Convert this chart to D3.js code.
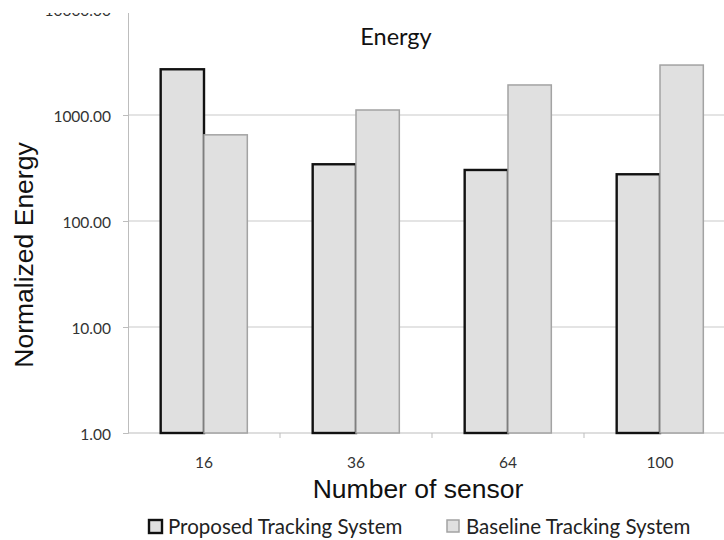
<!DOCTYPE html>
<html>
<head>
<meta charset="utf-8">
<script src="https://cdn.jsdelivr.net/npm/d3@7"></script>
<style>
  html, body { margin: 0; padding: 0; background: #fff; }
  svg { display: block; }
</style>
</head>
<body>
<svg id="chart" width="724" height="540"></svg>
<script>
// Number of sensors per run
const categories = ["16", "36", "64", "100"];
// Normalized energy for each tracking system
const proposedValues = [2700, 343, 303, 276];
const baselineValues = [650, 1115, 1920, 2960];
const seriesNames = ["Proposed Tracking System", "Baseline Tracking System"];
const yTickValues = [1, 10, 100, 1000, 10000];

const svg = d3.select("#chart");
const W = 724, H = 540;
const plot = { left: 128, right: 736, top: 9, bottom: 433, visibleTop: 13 };

const tickFont = "Lato, 'Open Sans', sans-serif";
const titleFont = "'Liberation Sans', Arial, sans-serif";

svg.append("defs").append("clipPath").attr("id", "visible")
  .append("rect").attr("x", 0).attr("y", plot.visibleTop).attr("width", W).attr("height", H - plot.visibleTop);

const root = svg.append("g").attr("clip-path", "url(#visible)");

const y = d3.scaleLog().domain([1, 10000]).range([plot.bottom, plot.top]);

const x0 = d3.scaleBand().domain(categories)
  .range([plot.left, plot.right])
  .paddingInner(0.43).paddingOuter(0.215);
const x1 = d3.scaleBand().domain(seriesNames).range([0, x0.bandwidth()]);

const rows = categories.map((c, i) => ({
  cat: c,
  values: [
    { name: seriesNames[0], v: proposedValues[i] },
    { name: seriesNames[1], v: baselineValues[i] }
  ]
}));

// horizontal gridlines
root.append("g").selectAll("line")
  .data(yTickValues.filter(v => v > 1))
  .join("line")
  .attr("x1", plot.left).attr("x2", W)
  .attr("y1", d => y(d)).attr("y2", d => y(d))
  .attr("stroke", "#c9c9c9").attr("stroke-width", 1);

// y axis
const yAxis = d3.axisLeft(y).tickValues(yTickValues)
  .tickFormat(d3.format(".2f")).tickSize(5).tickPadding(12);
const gy = root.append("g").attr("transform", `translate(${plot.left},0)`).call(yAxis);
gy.select(".domain").attr("stroke", "#bdbdbd");
gy.selectAll(".tick line").attr("stroke", "#bdbdbd");
gy.selectAll(".tick text").attr("fill", "#333").attr("font-family", tickFont)
  .attr("font-size", 15.5).attr("dy", "0.45em");

// x axis baseline with tick marks between categories
root.append("line")
  .attr("x1", plot.left).attr("x2", W)
  .attr("y1", plot.bottom).attr("y2", plot.bottom)
  .attr("stroke", "#bdbdbd");
const gap = (x0.step() - x0.bandwidth()) / 2;
root.append("g").selectAll("line")
  .data(categories.slice(1))
  .join("line")
  .attr("x1", d => x0(d) - gap).attr("x2", d => x0(d) - gap)
  .attr("y1", plot.bottom).attr("y2", plot.bottom + 5)
  .attr("stroke", "#bdbdbd");

root.append("g").selectAll("text")
  .data(categories)
  .join("text")
  .attr("x", d => x0(d) + x0.bandwidth() / 2)
  .attr("y", plot.bottom + 35)
  .attr("text-anchor", "middle")
  .attr("font-family", tickFont).attr("font-size", 15.5).attr("fill", "#333")
  .text(d => d);

// bars
const styles = {
  [seriesNames[0]]: { stroke: "#111", width: 2.4 },
  [seriesNames[1]]: { stroke: "#a3a3a3", width: 1.5 }
};
root.append("g").selectAll("g")
  .data(rows)
  .join("g")
  .attr("transform", d => `translate(${x0(d.cat)},0)`)
  .selectAll("rect")
  .data(d => d.values)
  .join("rect")
  .attr("x", d => x1(d.name))
  .attr("width", x1.bandwidth())
  .attr("y", d => y(d.v))
  .attr("height", d => y(1) - y(d.v))
  .attr("fill", "#e0e0e0")
  .attr("stroke", d => styles[d.name].stroke)
  .attr("stroke-width", d => styles[d.name].width);

// titles
svg.append("text")
  .attr("x", 396).attr("y", 45)
  .attr("text-anchor", "middle")
  .attr("font-family", tickFont).attr("font-size", 23.5).attr("fill", "#111")
  .text("Energy");

svg.append("text")
  .attr("transform", "translate(33,255) rotate(-90)")
  .attr("text-anchor", "middle")
  .attr("font-family", titleFont).attr("font-size", 26.5).attr("fill", "#111")
  .text("Normalized Energy");

svg.append("text")
  .attr("x", 418).attr("y", 498)
  .attr("text-anchor", "middle")
  .attr("font-family", titleFont).attr("font-size", 26.5).attr("fill", "#111")
  .text("Number of sensor");

// legend
const legendItems = [
  { name: seriesNames[0], x: 149, size: 13, ...styles[seriesNames[0]] },
  { name: seriesNames[1], x: 447, size: 12, ...styles[seriesNames[1]] }
];
const lg = svg.append("g").selectAll("g")
  .data(legendItems)
  .join("g")
  .attr("transform", d => `translate(${d.x},520)`);
lg.append("rect")
  .attr("width", d => d.size).attr("height", d => d.size)
  .attr("fill", "#e0e0e0")
  .attr("stroke", d => d.stroke).attr("stroke-width", d => d.width);
lg.append("text")
  .attr("x", 19).attr("y", 14)
  .attr("font-family", tickFont).attr("font-size", 20.5).attr("fill", "#222")
  .text(d => d.name);
</script>
</body>
</html>
